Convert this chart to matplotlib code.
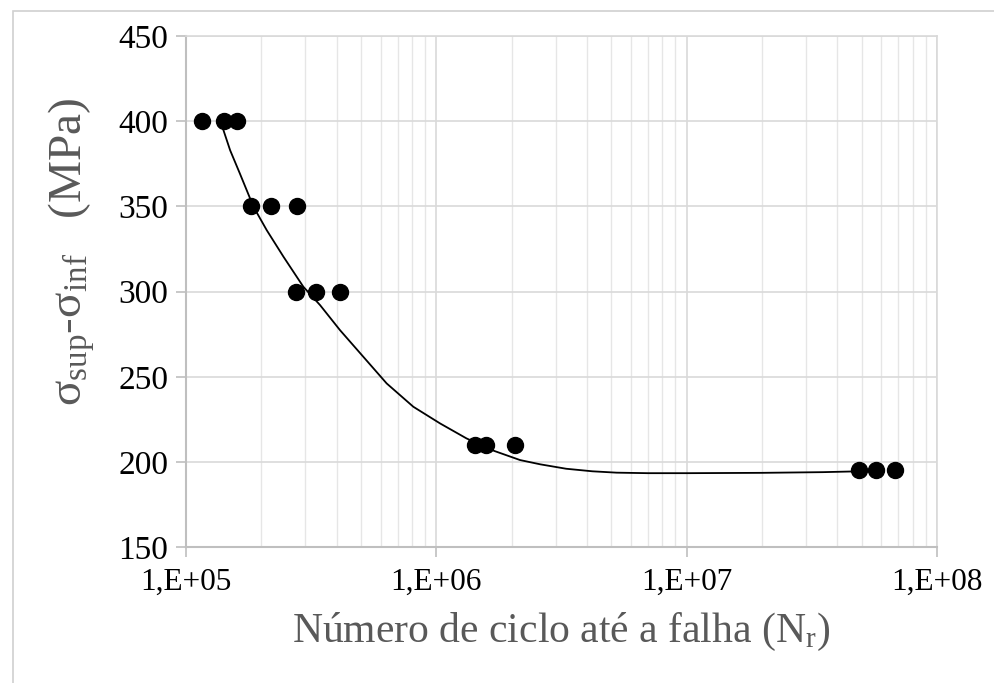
import numpy as np
import matplotlib
matplotlib.use("Agg")
import matplotlib.pyplot as plt
from matplotlib.patches import Rectangle
from matplotlib.ticker import FixedLocator, LogLocator, NullFormatter

plt.rcParams['font.family'] = ['Liberation Serif', 'DejaVu Serif']
plt.rcParams['mathtext.fontset'] = 'custom'
plt.rcParams['mathtext.rm'] = 'Liberation Serif'
plt.rcParams['mathtext.it'] = 'Liberation Serif:italic'

# measured points (cycles to failure, stress range MPa)
cycles = [1.16e5, 1.42e5, 1.60e5,
          1.82e5, 2.19e5, 2.78e5,
          2.75e5, 3.31e5, 4.12e5,
          1.43e6, 1.58e6, 2.06e6,
          4.88e7, 5.71e7, 6.80e7]
stress = [400, 400, 400,
          350, 350, 350,
          300, 300, 300,
          210, 210, 210,
          195, 195, 195]

# trend curve
curve_n = [1.38e5, 1.50e5, 1.64e5, 1.86e5, 2.10e5, 2.45e5, 2.94e5, 3.43e5,
           4.12e5, 5.11e5, 6.33e5, 8.09e5, 1.035e6, 1.32e6, 1.70e6, 2.16e6,
           2.60e6, 3.30e6, 4.20e6, 5.25e6, 7.00e6, 1.00e7, 2.00e7, 3.50e7,
           4.90e7]
curve_s = [399, 383, 369.4, 349.8, 336.1, 320.5, 302.9, 292.1,
           277.4, 261.7, 246.1, 232.4, 222.6, 213.8, 206.5, 201.1,
           198.6, 196.0, 194.5, 193.7, 193.4, 193.4, 193.6, 194.0,
           194.5]

xticks = [1e5, 1e6, 1e7, 1e8]
xtick_labels = ["1,E+05", "1,E+06", "1,E+07", "1,E+08"]
yticks = [150, 200, 250, 300, 350, 400, 450]

fig = plt.figure(figsize=(9.95, 6.83), dpi=100)
fig.patches.append(Rectangle((0.013, -0.1), 1.2, 1.084, transform=fig.transFigure,
                             fill=False, edgecolor="#d0d0d0", lw=1.2))
ax = fig.add_axes([0.187, 0.199, 0.7547, 0.748])

ax.plot(curve_n, curve_s, color="black", lw=1.3, zorder=3)
ax.plot(cycles, stress, "o", color="black", ms=11.5, zorder=4)

ax.set_xscale("log")
ax.set_xlim(1e5, 1e8)
ax.set_ylim(150, 450)
ax.xaxis.set_major_locator(FixedLocator(xticks))
ax.set_xticklabels(xtick_labels)
ax.xaxis.set_minor_locator(LogLocator(base=10, subs=np.arange(2, 10)))
ax.xaxis.set_minor_formatter(NullFormatter())
ax.set_yticks(yticks)

ax.grid(which="major", color="#d9d9d9", lw=1.2)
ax.grid(which="minor", axis="x", color="#e6e6e6", lw=1.0)
ax.set_axisbelow(True)
for side in ["top", "right"]:
    ax.spines[side].set_color("#d9d9d9")
    ax.spines[side].set_linewidth(1.2)
for side in ["left", "bottom"]:
    ax.spines[side].set_color("#bfbfbf")
    ax.spines[side].set_linewidth(1.5)

ax.tick_params(axis="both", which="major", colors="#bfbfbf",
               labelcolor="black", length=7, width=1.2)
ax.tick_params(axis="x", which="major", labelsize=22.5, pad=8)
ax.tick_params(axis="y", which="major", labelsize=24, pad=6)
ax.tick_params(axis="x", which="minor", length=0)

ax.set_xlabel(r"Número de ciclo até a falha (N$_\mathregular{r}$)",
              fontsize=30, color="#595959", labelpad=10)
ax.set_ylabel(r"$\mathregular{\sigma_{sup}}$-$\mathregular{\sigma_{inf}}$   (MPa)",
              fontsize=34, color="#595959")
ax.yaxis.set_label_coords(-0.118, 0.577)

fig.savefig("out.png", dpi=100)
